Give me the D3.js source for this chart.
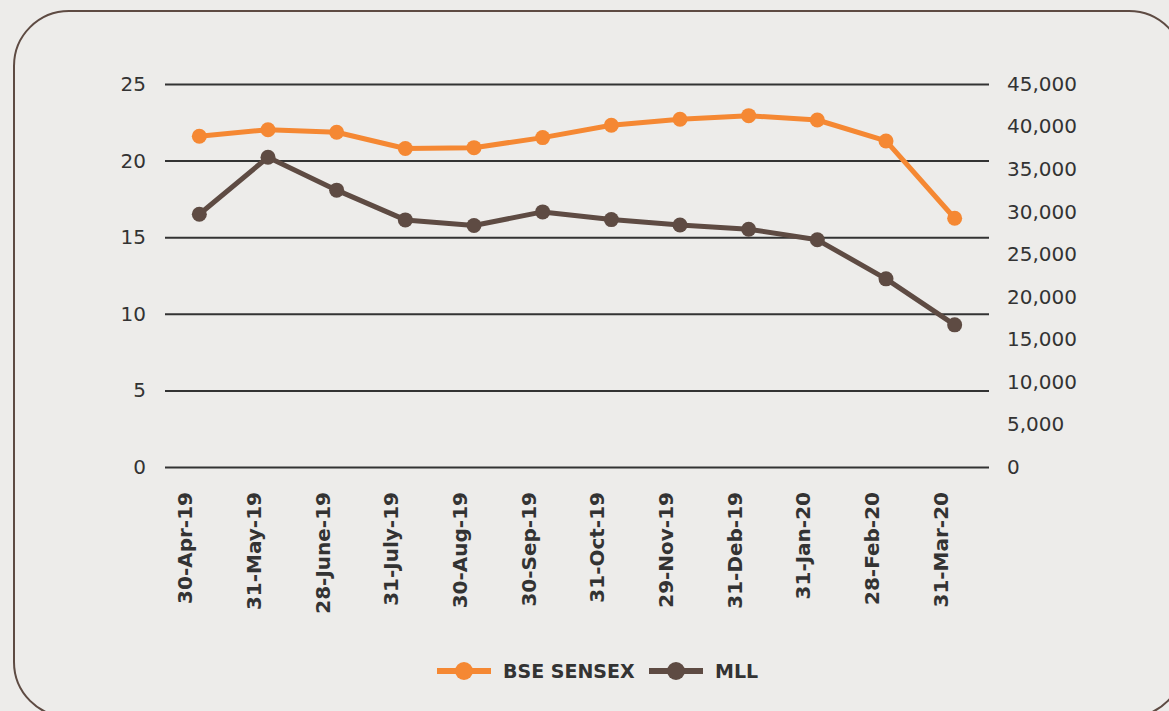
<!DOCTYPE html>
<html>
<head>
<meta charset="utf-8">
<script src="https://cdn.jsdelivr.net/npm/d3@7"></script>
<style>
  body { margin: 0; background: #edecea; }
  svg { display: block; }
  .tick text { font-family: "DejaVu Sans", sans-serif; fill: #333; }
</style>
</head>
<body>
<svg id="canvas" width="1169" height="711"></svg>
<script>
let dates = ["30-Apr-19", "31-May-19", "28-June-19", "31-July-19", "30-Aug-19", "30-Sep-19",
  "31-Oct-19", "29-Nov-19", "31-Deb-19", "31-Jan-20", "28-Feb-20", "31-Mar-20"]
let sensex = [38860, 39630, 39330, 37420, 37520, 38700, 40150, 40860, 41280, 40770, 38310, 29230]
let mll = [16.5, 20.22, 18.07, 16.13, 15.76, 16.65, 16.15, 15.8, 15.52, 14.83, 12.28, 9.28]
let leftTicks = [0, 5, 10, 15, 20, 25]
let rightTicks = [0, 5000, 10000, 15000, 20000, 25000, 30000, 35000, 40000, 45000]

let orange = "#f58833"
let brown = "#5e4b43"

let canvas = d3.select("#canvas")

// rounded frame
canvas.append("rect")
  .attr("x", 14).attr("y", 11)
  .attr("width", 1170).attr("height", 706)
  .attr("rx", 55).attr("ry", 55)
  .attr("fill", "#edecea")
  .attr("stroke", brown)
  .attr("stroke-width", 2)

let plotLeft = 165, plotRight = 989, plotTop = 84, plotBottom = 467

let xScale = d3.scalePoint().domain(dates).range([plotLeft, plotRight]).padding(0.5)
let yLeft = d3.scaleLinear().domain([0, 25]).range([plotBottom, plotTop])
let yRight = d3.scaleLinear().domain([0, 45000]).range([plotBottom, plotTop])

// left axis + gridlines
let gl = canvas.append("g")
  .attr("transform", "translate(" + plotLeft + ",0)")
  .call(d3.axisLeft(yLeft).tickValues(leftTicks).tickSize(-(plotRight - plotLeft)).tickPadding(19))
gl.select(".domain").remove()
gl.selectAll(".tick line").attr("stroke", "#333").attr("stroke-width", 2)
gl.selectAll(".tick text").style("font-size", "20px")

// right axis labels
let gr = canvas.append("g")
  .attr("transform", "translate(" + plotRight + ",0)")
  .call(d3.axisRight(yRight).tickValues(rightTicks).tickSize(0).tickPadding(18)
    .tickFormat(d3.format(",")))
gr.select(".domain").remove()
gr.selectAll(".tick text").style("font-size", "20px")

// x labels
canvas.append("g")
  .selectAll("text")
  .data(dates)
  .enter()
  .append("text")
  .attr("transform", (d) => "translate(" + (xScale(d) - 14) + ",492) rotate(-90)")
  .attr("text-anchor", "end")
  .attr("dy", "0.35em")
  .style("font-family", "DejaVu Sans, sans-serif")
  .style("font-weight", "bold")
  .style("font-size", "20px")
  .attr("fill", "#333")
  .text((d) => d)

let drawSeries = (values, scale, color) => {
  let line = d3.line()
    .x((d, i) => xScale(dates[i]))
    .y((d) => scale(d))
  canvas.append("path")
    .datum(values)
    .attr("d", line)
    .attr("fill", "none")
    .attr("stroke", color)
    .attr("stroke-width", 5)
    .attr("stroke-linejoin", "round")
  canvas.append("g")
    .selectAll("circle")
    .data(values)
    .enter()
    .append("circle")
    .attr("cx", (d, i) => xScale(dates[i]))
    .attr("cy", (d) => scale(d))
    .attr("r", 7.5)
    .attr("fill", color)
}

drawSeries(sensex, yRight, orange)
drawSeries(mll, yLeft, brown)

// legend
let legendItems = [
  { name: "BSE SENSEX", color: orange, x: 437 },
  { name: "MLL", color: brown, x: 649 }
]
let lg = canvas.append("g")
legendItems.forEach((item) => {
  lg.append("line")
    .attr("x1", item.x).attr("x2", item.x + 54)
    .attr("y1", 671).attr("y2", 671)
    .attr("stroke", item.color).attr("stroke-width", 6)
  lg.append("circle")
    .attr("cx", item.x + 27).attr("cy", 671).attr("r", 9)
    .attr("fill", item.color)
  lg.append("text")
    .attr("x", item.x + 66).attr("y", 671)
    .attr("dy", "0.35em")
    .style("font-family", "DejaVu Sans, sans-serif")
    .style("font-weight", "bold")
    .style("font-size", "19px")
    .attr("fill", "#333")
    .text(item.name)
})
</script>
</body>
</html>
